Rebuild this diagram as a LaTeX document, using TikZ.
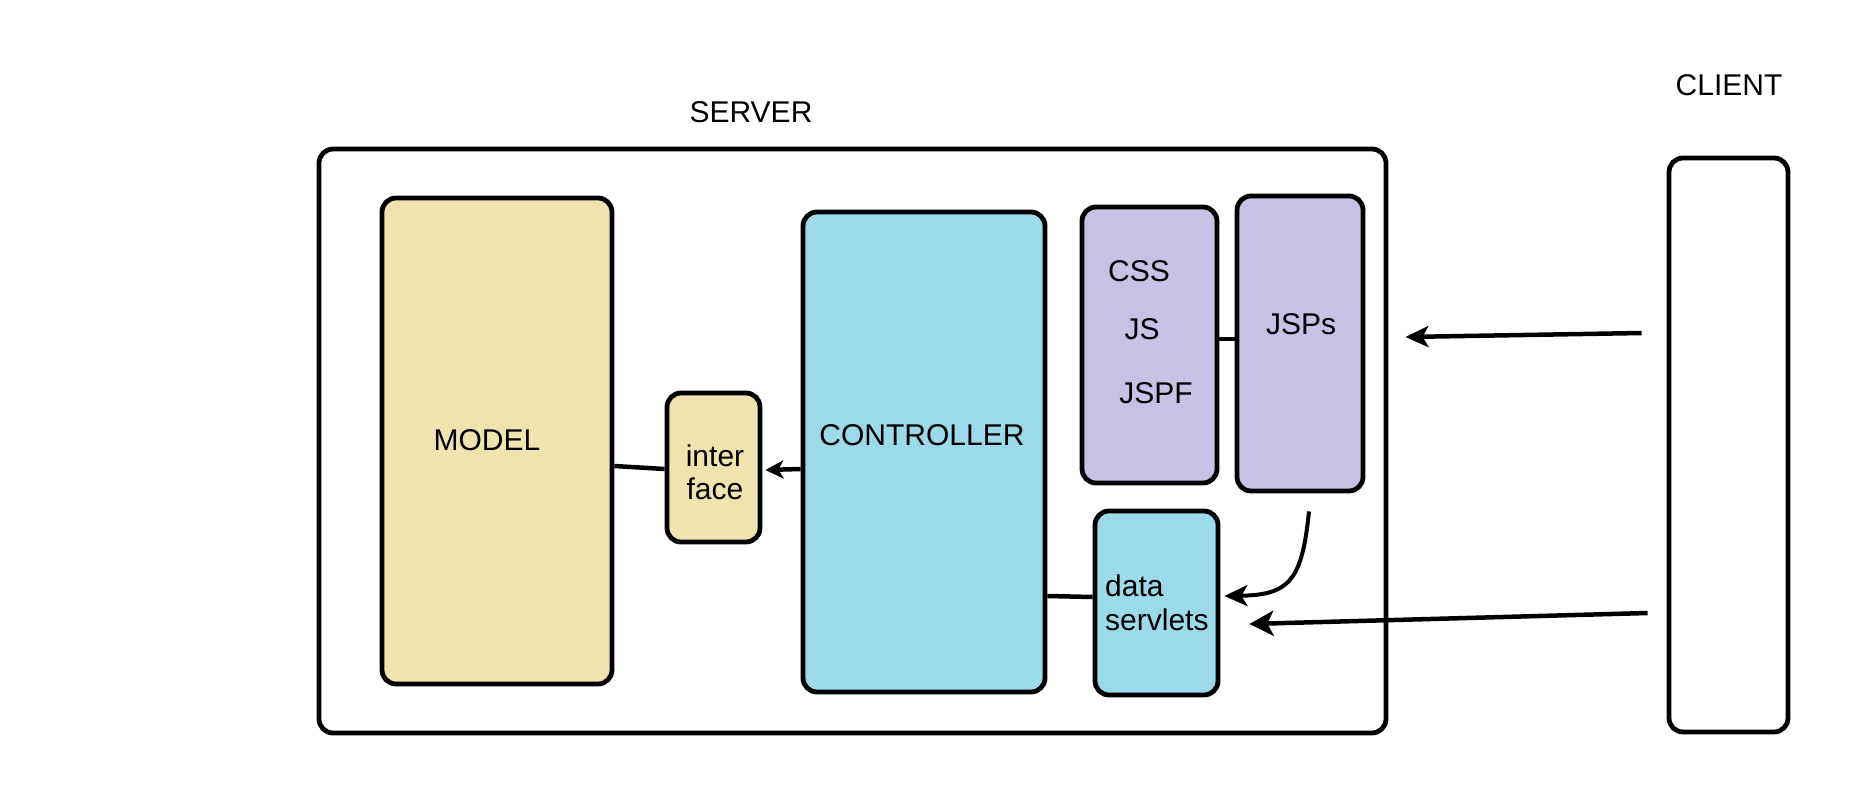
\documentclass[tikz,border=0pt]{standalone}
\usepackage{fontspec}
\setmainfont{Liberation Sans}
\usetikzlibrary{arrows.meta}
\definecolor{tanfill}{HTML}{EFE3B0}
\definecolor{bluefill}{HTML}{9CD9EA}
\definecolor{purplefill}{HTML}{C8C0E5}
\tikzset{
  box/.style={draw=black, line width=4.8pt, rounded corners=14pt, inner sep=0pt},
  lbl/.style={inner sep=0pt, font=\fontsize{30}{34}\selectfont},
  conn/.style={draw=black, line width=4.5pt},
  arrsmall/.style={conn, -{Stealth[length=18pt,width=18pt,inset=5pt]}},
  arrmid/.style={conn, -{Stealth[length=23pt,width=21pt,inset=6pt]}},
  arrbig/.style={conn, -{Stealth[length=24pt,width=25pt,inset=6pt]}},
}
\begin{document}
\begin{tikzpicture}[x=1pt,y=-1pt]
\useasboundingbox (0,0) rectangle (1871,789);
% boxes
\node[box, fill=white, minimum width=1067pt, minimum height=584pt] (server) at (852.5,441) {};
\node[box, fill=white, minimum width=119pt, minimum height=574pt] (client) at (1728.5,445) {};
\node[box, fill=tanfill, minimum width=230pt, minimum height=486pt] (model) at (497,441) {};
\node[box, fill=tanfill, minimum width=93pt, minimum height=149pt] (iface) at (713.5,467.5) {};
\node[box, fill=bluefill, minimum width=242pt, minimum height=480pt] (ctrl) at (924,452) {};
\node[box, fill=purplefill, minimum width=135pt, minimum height=276pt] (css) at (1149.5,345) {};
\node[box, fill=purplefill, minimum width=126pt, minimum height=295pt] (jsps) at (1300,343.5) {};
\node[box, fill=bluefill, minimum width=123pt, minimum height=184pt] (data) at (1156.5,603) {};
% texts
\node[lbl] (servertxt) at (751,112) {SERVER};
\node[lbl] (clienttxt) at (1729,85) {CLIENT};
\node[lbl] (modeltxt) at (487,440) {MODEL};
\node[lbl, align=center, font=\fontsize{30}{33}\selectfont] (ifacetxt) at (715,472) {inter\\face};
\node[lbl] (ctrltxt) at (922,435) {CONTROLLER};
\node[lbl] (csstxt) at (1139,271) {CSS};
\node[lbl] (jstxt) at (1142,329) {JS};
\node[lbl] (jspftxt) at (1156,393) {JSPF};
\node[lbl] (jspstxt) at (1301,324) {JSPs};
\node[lbl, align=left, anchor=west] (datatxt) at (1105,603) {data\\servlets};
% connectors
\draw[conn] ([yshift=-25pt]model.east) -- ([yshift=-1.5pt]iface.west);
\draw[arrsmall] ([yshift=-17pt]ctrl.west) -- ([xshift=3pt,yshift=-2.5pt]iface.east);
\draw[conn] ([yshift=6pt]css.east) -- ([yshift=4.5pt]jsps.west);
\draw[conn] ([yshift=-144pt]ctrl.east) -- ([yshift=6pt]data.west);
\coordinate (cstart) at ([xshift=9pt,yshift=-18pt]jsps.south);
\draw[arrmid, line width=4pt] (cstart) .. controls (1302,580) and (1290,595) .. ([xshift=4pt,yshift=7pt]data.east);
\coordinate (c1s) at ([xshift=-25pt,yshift=112pt]client.west);
\coordinate (c1e) at ([xshift=17pt,yshift=104pt]server.east);
\draw[arrmid] (c1s) -- (c1e);
\coordinate (c2s) at ([xshift=-19pt,yshift=-168pt]client.west);
\coordinate (c2e) at ([xshift=29pt,yshift=-21pt]data.east);
\draw[arrbig] (c2s) -- (c2e);
\end{tikzpicture}
\end{document}
